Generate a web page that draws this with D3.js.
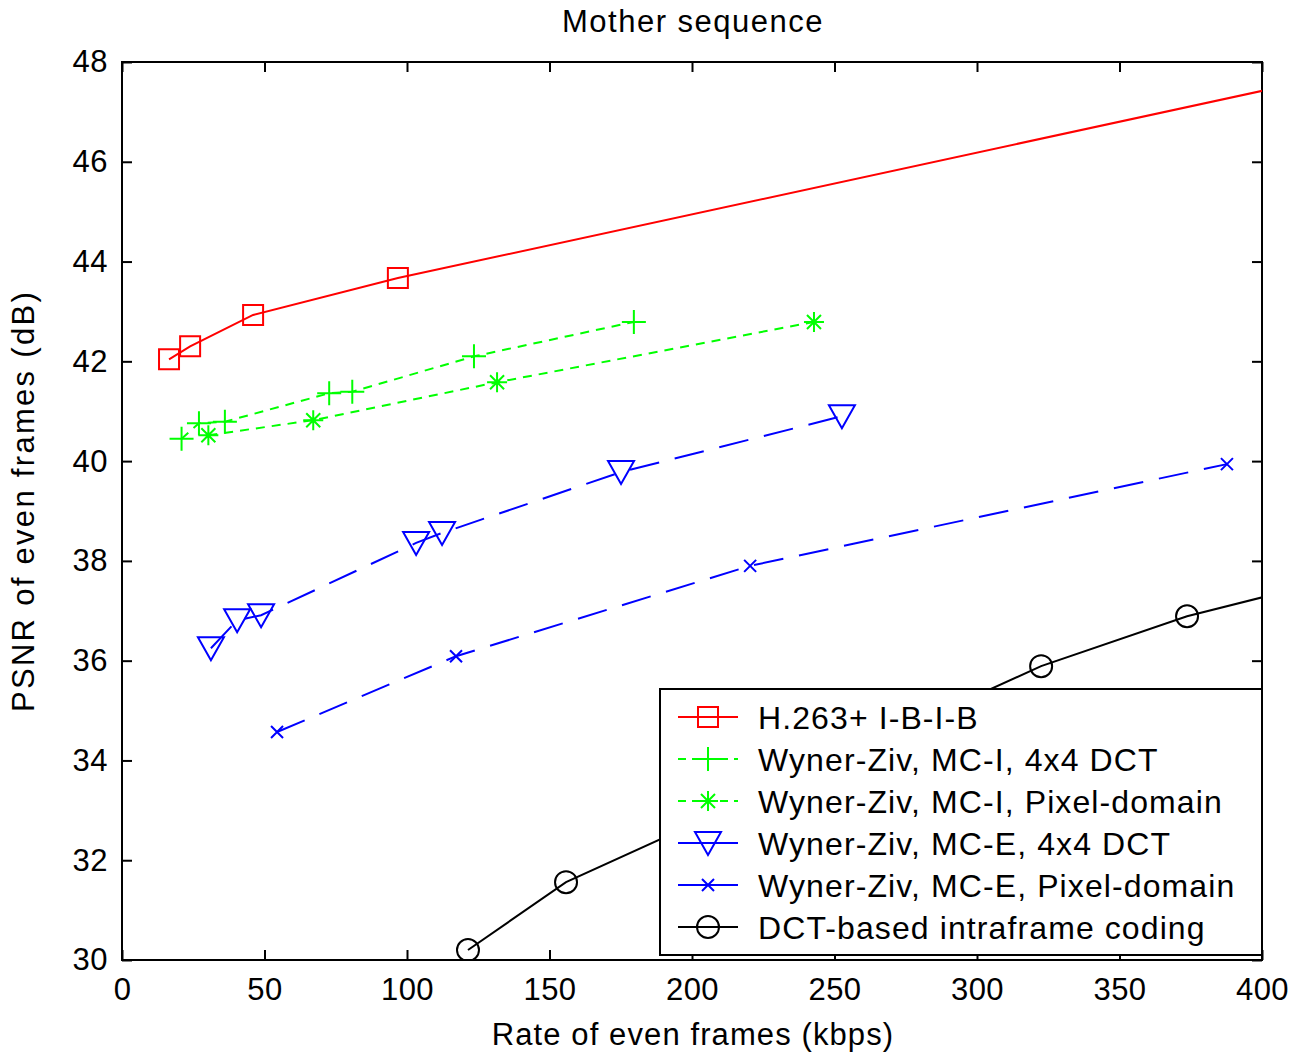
<!DOCTYPE html>
<html>
<head>
<meta charset="utf-8">
<script src="https://cdn.jsdelivr.net/npm/d3@7"></script>
<style>
  body { margin: 0; background: #fff; }
  text { font-family: "Liberation Sans", Arial, sans-serif; fill: #000; }
</style>
</head>
<body>
<div id="chart"></div>
<script>
// data (rate in kbps, PSNR in dB)
const h263Rate = [16.5, 23.9, 46.0, 96.8, 450];
const h263Psnr = [42.04, 42.30, 42.93, 43.67, 48.04];

const mciDctRate = [20.9, 27.0, 36.1, 72.7, 80.8, 123.5, 179.6];
const mciDctPsnr = [40.45, 40.76, 40.79, 41.36, 41.39, 42.10, 42.79];

const mciPixRate = [30.3, 67.1, 131.6, 242.8];
const mciPixPsnr = [40.52, 40.82, 41.58, 42.79];

const mceDctRate = [31.2, 40.4, 48.8, 103.2, 112.3, 175.1, 252.6];
const mceDctPsnr = [36.25, 36.81, 36.91, 38.36, 38.56, 39.78, 40.90];

const mcePixRate = [54.4, 117.2, 220.4, 387.7];
const mcePixPsnr = [34.57, 36.09, 37.90, 39.94];

const intraRate = [121.4, 155.8, 322.5, 373.7, 450];
const intraPsnr = [30.20, 31.56, 35.89, 36.89, 37.99];

const xTicks = [0, 50, 100, 150, 200, 250, 300, 350, 400];
const yTicks = [30, 32, 34, 36, 38, 40, 42, 44, 46, 48];

const seriesNames = [
  "H.263+ I-B-I-B",
  "Wyner-Ziv, MC-I, 4x4 DCT",
  "Wyner-Ziv, MC-I, Pixel-domain",
  "Wyner-Ziv, MC-E, 4x4 DCT",
  "Wyner-Ziv, MC-E, Pixel-domain",
  "DCT-based intraframe coding"
];

// marker shapes, drawn as plain paths around (0,0)
const markers = {
  square: "M-10,-10H10V10H-10Z",
  plus: "M-12,0H12M0,-12V12",
  star: "M-10,0H10M0,-10V10M-7,-7L7,7M-7,7L7,-7",
  tri: "M-13,-11H13L0,12Z",
  cross: "M-6,-6L6,6M-6,6L6,-6",
  circle: "M-11,0A11,11 0 1,0 11,0A11,11 0 1,0 -11,0"
};

// legendDash: what the short legend sample looks like
const series = [
  { name: seriesNames[0], rate: h263Rate, psnr: h263Psnr, color: "#ff0000", dash: null, legendDash: null, marker: "square" },
  { name: seriesNames[1], rate: mciDctRate, psnr: mciDctPsnr, color: "#00ff00", dash: "9,7", legendDash: "8,6", marker: "plus" },
  { name: seriesNames[2], rate: mciPixRate, psnr: mciPixPsnr, color: "#00ff00", dash: "9,7", legendDash: "8,6", marker: "star" },
  { name: seriesNames[3], rate: mceDctRate, psnr: mceDctPsnr, color: "#0000ff", dash: "30,16", legendDash: null, marker: "tri" },
  { name: seriesNames[4], rate: mcePixRate, psnr: mcePixPsnr, color: "#0000ff", dash: "30,16", legendDash: null, marker: "cross" },
  { name: seriesNames[5], rate: intraRate, psnr: intraPsnr, color: "#000000", dash: null, legendDash: null, marker: "circle" }
];

let margin = {top: 62, right: 29, bottom: 94, left: 122},
    width = 1291 - margin.left - margin.right,
    height = 1054 - margin.top - margin.bottom;

let svg = d3.select("#chart")
  .append("svg")
    .attr("width", 1291)
    .attr("height", 1054)
  .append("g")
    .attr("transform", "translate(" + margin.left + "," + margin.top + ")");

let x = d3.scaleLinear().domain([0, 400]).range([0, width]);
let y = d3.scaleLinear().domain([30, 48]).range([height, 0]);

svg.append("clipPath").attr("id", "clip")
  .append("rect").attr("width", width).attr("height", height);

// axes with inward ticks on all four sides
const tickLen = 10;
svg.append("g")
    .attr("transform", "translate(0," + height + ")")
    .call(d3.axisBottom(x).tickValues(xTicks).tickSizeInner(-tickLen).tickSizeOuter(0).tickPadding(18))
    .call(g => g.selectAll("text").style("font-size", "31px").style("letter-spacing", "0.5px"));
svg.append("g")
    .call(d3.axisTop(x).tickValues(xTicks).tickSizeInner(-tickLen).tickSizeOuter(0).tickFormat(""));
svg.append("g")
    .call(d3.axisLeft(y).tickValues(yTicks).tickSizeInner(-tickLen).tickSizeOuter(0).tickPadding(14))
    .call(g => g.selectAll("text").style("font-size", "31px").style("letter-spacing", "0.5px"));
svg.append("g")
    .attr("transform", "translate(" + width + ",0)")
    .call(d3.axisRight(y).tickValues(yTicks).tickSizeInner(-tickLen).tickSizeOuter(0).tickFormat(""));

svg.selectAll(".domain").remove();
svg.selectAll(".tick line").attr("stroke", "#000").attr("stroke-width", 2);
svg.selectAll(".tick text").attr("fill", "#000").style("font-family", "'Liberation Sans', Arial, sans-serif");

svg.append("rect")
    .attr("width", width).attr("height", height)
    .attr("fill", "none").attr("stroke", "#000").attr("stroke-width", 2);

// lines and markers
let line = d3.line().x(d => x(d[0])).y(d => y(d[1]));
let plot = svg.append("g").attr("clip-path", "url(#clip)");

series.forEach(s => {
  let pts = s.rate.map((r, i) => [r, s.psnr[i]]);
  plot.append("path")
      .attr("d", line(pts))
      .attr("fill", "none")
      .attr("stroke", s.color)
      .attr("stroke-width", 2)
      .attr("stroke-dasharray", s.dash);
  plot.selectAll(null)
      .data(pts)
      .enter()
      .append("path")
        .attr("transform", d => "translate(" + x(d[0]) + "," + y(d[1]) + ")")
        .attr("d", markers[s.marker])
        .attr("fill", "none")
        .attr("stroke", s.color)
        .attr("stroke-width", 2);
});

// legend
let legend = svg.append("g").attr("transform", "translate(" + (width - 602) + "," + (height - 271) + ")");
legend.append("rect")
    .attr("width", 602).attr("height", 266)
    .attr("fill", "#fff").attr("stroke", "#000").attr("stroke-width", 2);
series.forEach((s, i) => {
  let row = legend.append("g").attr("transform", "translate(0," + (28 + i * 42) + ")");
  row.append("line")
      .attr("x1", 18).attr("x2", 78)
      .attr("stroke", s.color).attr("stroke-width", 2)
      .attr("stroke-dasharray", s.legendDash);
  row.append("path")
      .attr("transform", "translate(48,0)")
      .attr("d", markers[s.marker])
      .attr("fill", "none").attr("stroke", s.color).attr("stroke-width", 2);
  row.append("text")
      .attr("x", 98).attr("dy", "0.36em")
      .style("font-size", "32px")
      .style("letter-spacing", "1.1px")
      .text(s.name);
});

// labels
svg.append("text")
    .attr("x", width / 2 + 1).attr("y", -30)
    .attr("text-anchor", "middle")
    .style("font-size", "31px")
    .style("letter-spacing", "1.5px")
    .text("Mother sequence");
svg.append("text")
    .attr("x", width / 2 + 1).attr("y", height + 85)
    .attr("text-anchor", "middle")
    .style("font-size", "31px")
    .style("letter-spacing", "1.1px")
    .text("Rate of even frames (kbps)");
svg.append("text")
    .attr("transform", "translate(" + (-88) + "," + (height / 2 - 10) + ") rotate(-90)")
    .attr("text-anchor", "middle")
    .style("font-size", "31px")
    .style("letter-spacing", "2.3px")
    .text("PSNR of even frames (dB)");
</script>
</body>
</html>
